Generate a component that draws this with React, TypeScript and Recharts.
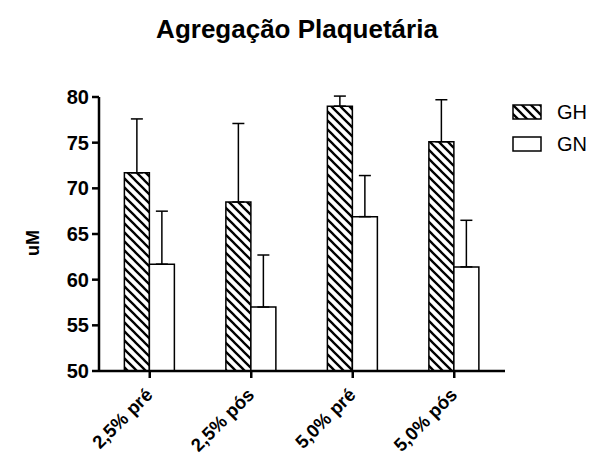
import { Bar, BarChart, ErrorBar, XAxis, YAxis } from "recharts";

const categories = ["2,5% pré", "2,5% pós", "5,0% pré", "5,0% pós"];
const ghValues = [71.7, 68.5, 79.0, 75.1];
const ghErrors = [5.9, 8.6, 1.1, 4.6];
const gnValues = [61.7, 57.0, 66.9, 61.4];
const gnErrors = [5.8, 5.7, 4.5, 5.1];
const yTicks = [50, 55, 60, 65, 70, 75, 80];

const data = categories.map((name, i) => ({
  name,
  GH: ghValues[i],
  ghErr: [0, ghErrors[i]],
  GN: gnValues[i],
  gnErr: [0, gnErrors[i]],
}));

const font = '"Liberation Sans", Arial, sans-serif';

function AngledTick({ x, y, payload }: any) {
  const ax = x + 4;
  const ay = y + 16;
  return (
    <text
      x={ax}
      y={ay}
      transform={`rotate(-45, ${ax}, ${ay})`}
      textAnchor="end"
      fontFamily={font}
      fontWeight="bold"
      fontSize={18.5}
      fill="#000"
    >
      {payload.value}
    </text>
  );
}

function LegendBox() {
  const items = [
    { label: "GH", fill: "url(#hatch)" },
    { label: "GN", fill: "#fff" },
  ];
  return (
    <div style={{ position: "absolute", left: 512, top: 96, fontFamily: font, fontSize: 20 }}>
      {items.map((it) => (
        <div key={it.label} style={{ display: "flex", alignItems: "center", height: 32 }}>
          <svg width={31} height={16}>
            <rect x={1} y={1} width={28} height={14} fill={it.fill} stroke="#000" strokeWidth={1.5} />
          </svg>
          <span style={{ marginLeft: 14 }}>{it.label}</span>
        </div>
      ))}
    </div>
  );
}

export default function App() {
  return (
    <div style={{ position: "absolute", left: 0, top: 0, width: 594, height: 459, background: "#fff", fontFamily: font }}>
      <svg width={0} height={0} style={{ position: "absolute" }}>
        <defs>
          <pattern id="hatch" patternUnits="userSpaceOnUse" width={9} height={9}>
            <rect width={9} height={9} fill="#fff" />
            <path d="M0,0 L9,9 M-3,6 L3,12 M6,-3 L12,3" stroke="#000" strokeWidth={2.3} />
          </pattern>
        </defs>
      </svg>
      <div
        style={{
          position: "absolute",
          top: 14,
          left: 0,
          width: 594,
          textAlign: "center",
          fontWeight: "bold",
          fontSize: 26,
        }}
      >
        Agregação Plaquetária
      </div>
      <div
        style={{
          position: "absolute",
          left: 33,
          top: 243,
          transform: "translate(-50%, -50%) rotate(-90deg)",
          fontWeight: "bold",
          fontSize: 18,
        }}
      >
        uM
      </div>
      <BarChart
        width={594}
        height={459}
        data={data}
        margin={{ top: 97, right: 89, bottom: 0, left: 49 }}
        barCategoryGap="25%"
        barGap={0}
      >
        <XAxis
          dataKey="name"
          tick={<AngledTick />}
          tickSize={7}
          height={88}
          axisLine={{ stroke: "#000", strokeWidth: 2.5 }}
          tickLine={{ stroke: "#000", strokeWidth: 2.5 }}
          interval={0}
        />
        <YAxis
          width={50}
          domain={[50, 80]}
          ticks={yTicks}
          allowDataOverflow
          tickSize={7}
          tickMargin={3}
          axisLine={{ stroke: "#000", strokeWidth: 2.5 }}
          tickLine={{ stroke: "#000", strokeWidth: 2.5 }}
          tick={{ fill: "#000", fontSize: 20, fontWeight: "bold", fontFamily: font }}
        />
        <Bar dataKey="GH" fill="url(#hatch)" stroke="#000" strokeWidth={1.5} isAnimationActive={false}>
          <ErrorBar dataKey="ghErr" width={6} stroke="#000" strokeWidth={1.5} direction="y" />
        </Bar>
        <Bar dataKey="GN" fill="#fff" stroke="#000" strokeWidth={1.5} isAnimationActive={false}>
          <ErrorBar dataKey="gnErr" width={6} stroke="#000" strokeWidth={1.5} direction="y" />
        </Bar>
      </BarChart>
      <LegendBox />
    </div>
  );
}
